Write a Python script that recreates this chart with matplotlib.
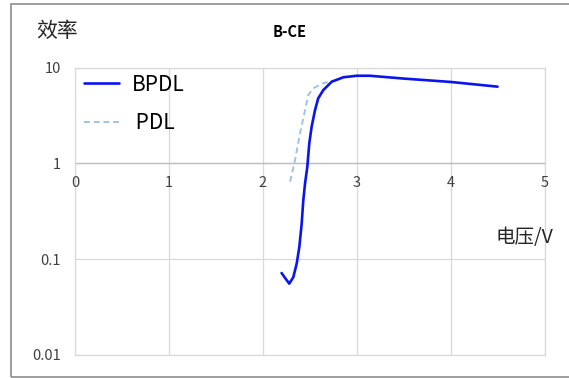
import matplotlib
matplotlib.use("Agg")
import matplotlib.pyplot as plt
from matplotlib.patches import Rectangle

plt.rcParams['font.family'] = ['Noto Sans CJK SC', 'DejaVu Sans']

# Data
bpdl_v = [2.20, 2.236, 2.282, 2.325, 2.361, 2.389, 2.414, 2.431, 2.45, 2.474, 2.495,
          2.52, 2.556, 2.59, 2.645, 2.734, 2.857, 3.00, 3.14, 3.50, 4.00, 4.50]
bpdl_eff = [0.0718, 0.064, 0.0556, 0.065, 0.090, 0.134, 0.235, 0.41, 0.62, 0.92, 1.62,
            2.42, 3.6, 4.79, 5.85, 7.14, 7.94, 8.24, 8.24, 7.7, 7.1, 6.34]
pdl_v = [2.29, 2.343, 2.396, 2.45, 2.485, 2.538, 2.645, 2.716, 2.80]
pdl_eff = [0.645, 1.08, 2.06, 3.6, 5.2, 6.1, 6.9, 7.14, 7.5]
x_ticks = [0, 1, 2, 3, 4, 5]
y_ticks = [0.01, 0.1, 1, 10]
y_labels = ['0.01', '0.1', '1', '10']

fig = plt.figure(figsize=(5.69, 3.78), dpi=100)
fig.patch.set_facecolor('white')
fig.patches.append(Rectangle((11/569, 1 - 377/378), 2, (377 - 4)/378,
                             transform=fig.transFigure, fill=False,
                             edgecolor='#8c8c8c', linewidth=1.2))

ax = fig.add_axes([75/569, 1 - 355/378, (544.5 - 75)/569, (355 - 67.7)/378])
ax.set_yscale('log')
ax.set_xlim(0, 5)
ax.set_ylim(0.01, 10)

ax.plot(pdl_v, pdl_eff, color='#9dc3e6', linestyle=(0, (3, 2)), linewidth=1.4,
        label='PDL', zorder=3, solid_joinstyle='round')
ax.plot(bpdl_v, bpdl_eff, color='#0a14f0', linewidth=1.9, label='BPDL', zorder=4,
        solid_joinstyle='round', solid_capstyle='round')

ax.set_xticks(x_ticks)
ax.set_yticks(y_ticks)
ax.set_yticklabels(y_labels)
ax.minorticks_off()
ax.grid(True, color='#d9d9d9', linewidth=0.9)
ax.set_axisbelow(True)
for s in ax.spines.values():
    s.set_color('#d9d9d9')
    s.set_linewidth(0.9)
ax.tick_params(axis='both', length=0, labelsize=10.5, colors='#404040')
ax.tick_params(axis='y', pad=10)
ax.xaxis.set_ticks_position('none')
ax.set_xticklabels([])
# x tick labels sit just below the y=1 line
for v in x_ticks:
    ax.text(v, 0.62, str(v), ha='center', va='center', fontsize=10.5, color='#404040')
ax.axhline(1, color='#bfbfbf', linewidth=1.0, zorder=1)

h, l = ax.get_legend_handles_labels()
leg = ax.legend([h[1], h[0]], ['BPDL', ' PDL'], loc='upper left', frameon=False,
                fontsize=15, handlelength=1.7, handletextpad=0.58, labelspacing=0.79,
                bbox_to_anchor=(-0.021, 1.045))

fig.text(57/569, 1 - 31/378, '效率', fontsize=15, ha='center', va='center', color='#262626')
fig.text(290/569, 1 - 32/378, 'B-CE', fontsize=10.5, fontweight='bold', ha='center', va='center', color='black')
fig.text(524/569, 1 - 237/378, '电压/V', fontsize=14, ha='center', va='center', color='#262626')

fig.savefig('out.png', dpi=100)
